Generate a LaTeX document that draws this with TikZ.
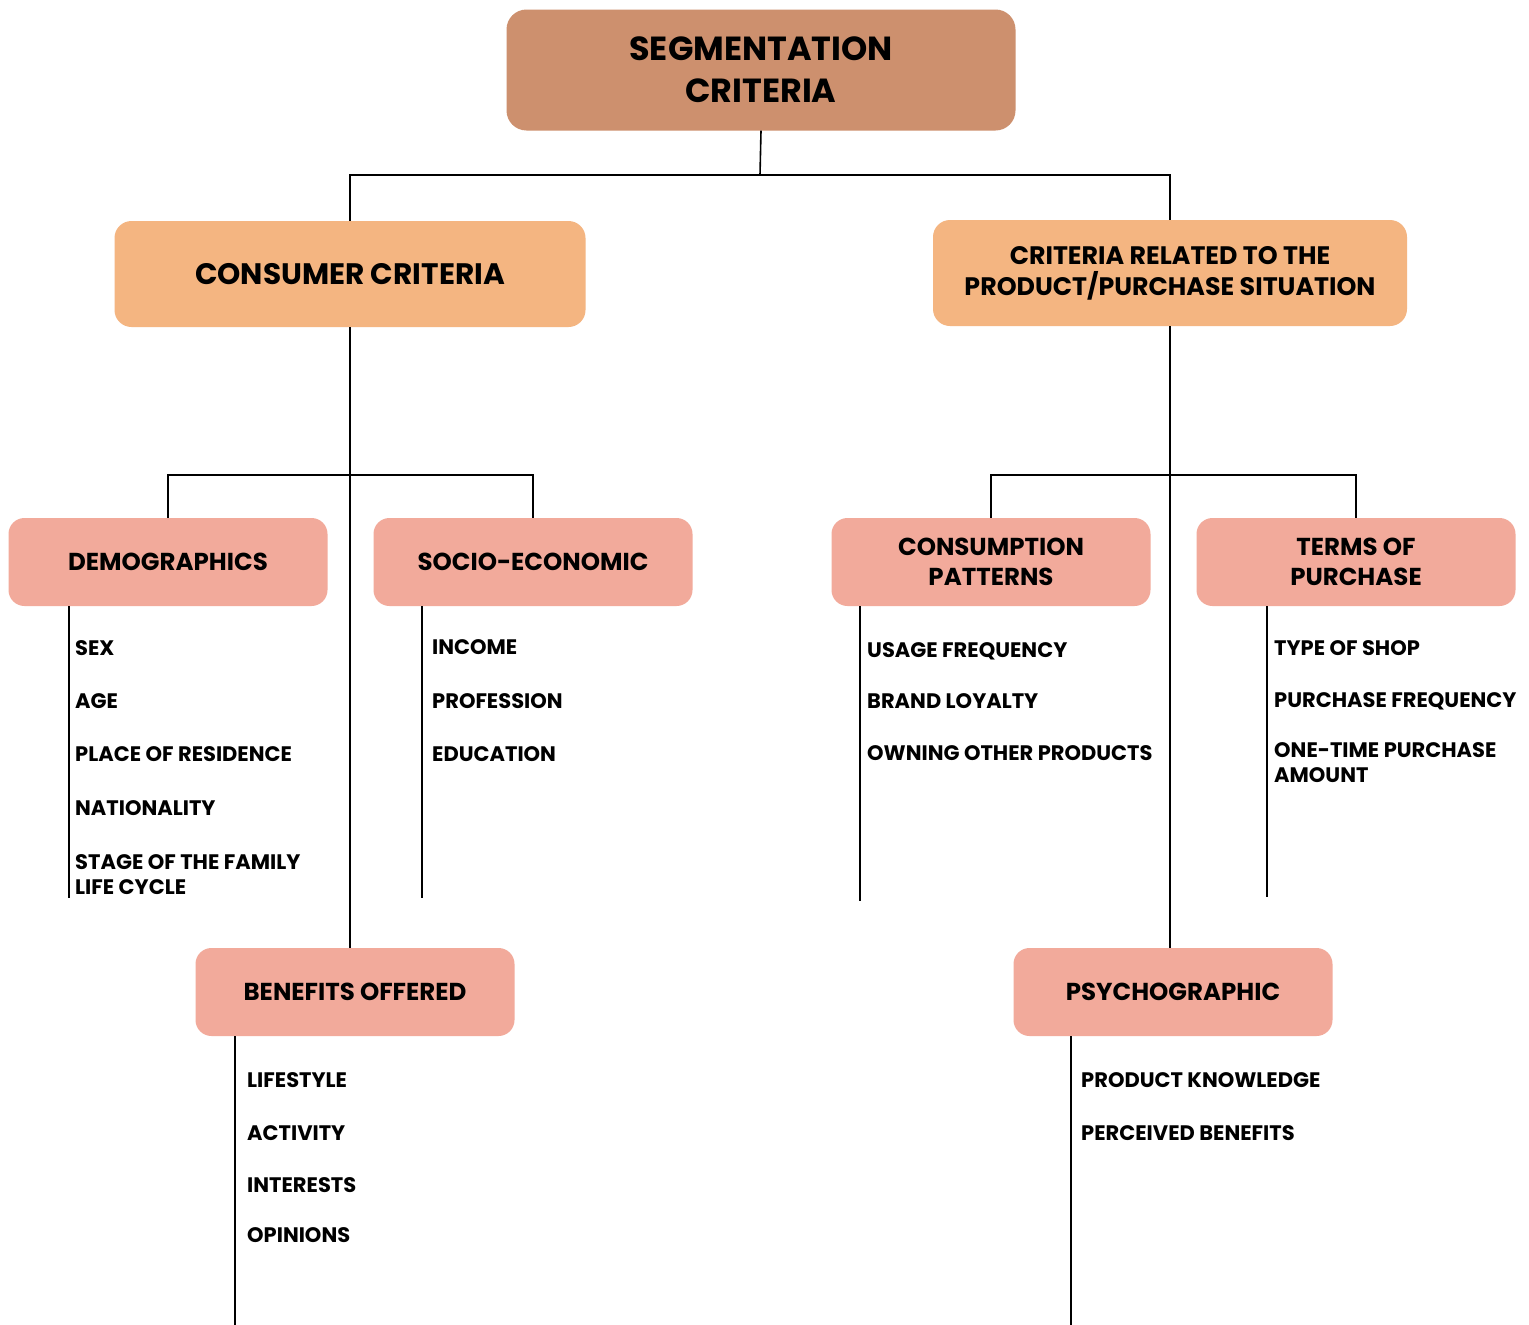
\documentclass[tikz,border=0pt]{standalone}
\usepackage{fontspec}
\setmainfont{Poppins}
\begin{document}
\begin{tikzpicture}[x=1pt,y=-1pt,
  rootbox/.style={draw=none,fill=rootc,rounded corners=20pt,minimum width=509pt,minimum height=121pt,align=center,font=\bfseries\fontsize{33.4}{42}\selectfont,inner sep=0pt},
  topbox/.style={draw=none,fill=topc,rounded corners=17pt,minimum width=471pt,minimum height=106pt,align=center,inner sep=0pt},
  subbox/.style={draw=none,fill=subc,rounded corners=16pt,minimum width=319pt,minimum height=88pt,align=center,font=\bfseries\fontsize{24.5}{30}\selectfont,inner sep=0pt},
  item/.style={anchor=base west,inner sep=0pt,align=left,font=\bfseries\fontsize{21}{25}\selectfont},
  conn/.style={line width=1.6pt,black}]
\definecolor{rootc}{HTML}{CD906E}
\definecolor{topc}{HTML}{F4B581}
\definecolor{subc}{HTML}{F2AA9B}
\useasboundingbox (0,0) rectangle (1529,1325);
\fill[white] (0,0) rectangle (1529,1325);

\coordinate (j0) at (760,175);
\coordinate (jl) at (350,475);
\coordinate (jr) at (1170,475);
\coordinate (eDemo) at (69,898);
\coordinate (eSocio) at (422,898);
\coordinate (eCons) at (860,901);
\coordinate (eTerms) at (1267,897);
\coordinate (eBen) at (235,1325);
\coordinate (ePsy) at (1071,1325);

\node[rootbox] (root) at (761,70) {SEGMENTATION\\CRITERIA};
\node[topbox,font=\bfseries\fontsize{29.6}{30}\selectfont] (cc) at (350,274) {CONSUMER CRITERIA};
\node[topbox,minimum width=474pt,font=\bfseries\fontsize{25.3}{31}\selectfont] (pc) at (1170,273) {CRITERIA RELATED TO THE\\PRODUCT/PURCHASE SITUATION};
\node[subbox] (demo) at (168,562) {DEMOGRAPHICS};
\node[subbox] (socio) at (533,562) {SOCIO-ECONOMIC};
\node[subbox] (cons) at (991,562) {CONSUMPTION\\PATTERNS};
\node[subbox] (terms) at (1356,562) {TERMS OF\\PURCHASE};
\node[subbox] (ben) at (355,992) {BENEFITS OFFERED};
\node[subbox] (psy) at (1173,992) {PSYCHOGRAPHIC};

\draw[conn] (root.south) -- (j0);
\draw[conn] (j0) -| (cc.north);
\draw[conn] (j0) -| (pc.north);
\draw[conn] (cc.south) -- (jl);
\draw[conn] (jl) -- (ben.north -| jl);
\draw[conn] (jl) -| (demo.north);
\draw[conn] (jl) -| (socio.north);
\draw[conn] (pc.south) -- (jr);
\draw[conn] (jr) -- (psy.north -| jr);
\draw[conn] (jr) -| (cons.north);
\draw[conn] (jr) -| (terms.north);

\draw[conn] (demo.south -| eDemo) -- (eDemo);
\draw[conn] (socio.south -| eSocio) -- (eSocio);
\draw[conn] (cons.south -| eCons) -- (eCons);
\draw[conn] (terms.south -| eTerms) -- (eTerms);
\draw[conn] (ben.south -| eBen) -- (eBen);
\draw[conn] (psy.south -| ePsy) -- (ePsy);

\node[item] (d1) at (75,655) {SEX};
\node[item] (d2) at (75,708) {AGE};
\node[item] (d3) at (75,761) {PLACE OF RESIDENCE};
\node[item] (d4) at (75,815) {NATIONALITY};
\node[item] (d5) at (75,894) {STAGE OF THE FAMILY\\LIFE CYCLE};

\node[item] (s1) at (432,654) {INCOME};
\node[item] (s2) at (432,708) {PROFESSION};
\node[item] (s3) at (432,761) {EDUCATION};

\node[item] (c1) at (867,657) {USAGE FREQUENCY};
\node[item] (c2) at (867,708) {BRAND LOYALTY};
\node[item] (c3) at (867,760) {OWNING OTHER PRODUCTS};

\node[item] (t1) at (1274,655) {TYPE OF SHOP};
\node[item] (t2) at (1274,707) {PURCHASE FREQUENCY};
\node[item] (t3) at (1274,782) {ONE-TIME PURCHASE\\AMOUNT};

\node[item] (b1) at (247,1087) {LIFESTYLE};
\node[item] (b2) at (247,1140) {ACTIVITY};
\node[item] (b3) at (247,1192) {INTERESTS};
\node[item] (b4) at (247,1242) {OPINIONS};

\node[item] (p1) at (1081,1087) {PRODUCT KNOWLEDGE};
\node[item] (p2) at (1081,1140) {PERCEIVED BENEFITS};
\end{tikzpicture}
\end{document}
